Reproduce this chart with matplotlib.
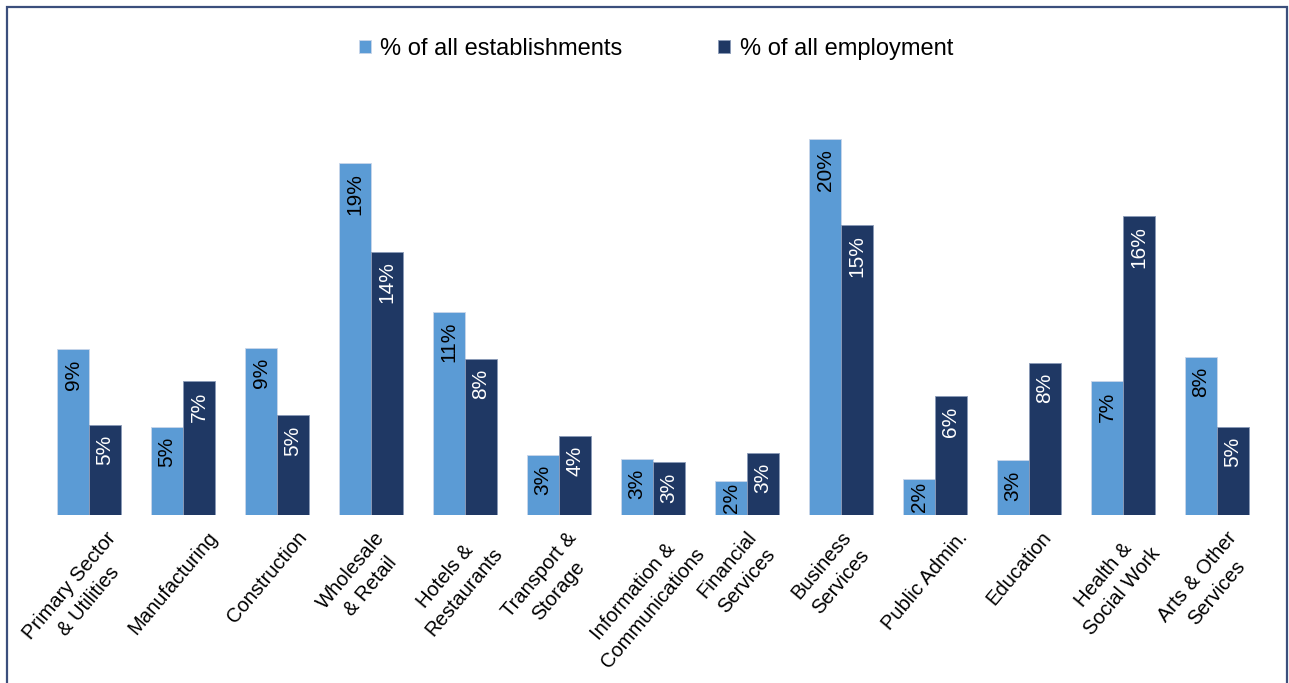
import matplotlib
matplotlib.use("Agg")
import matplotlib.pyplot as plt
import numpy as np
from matplotlib.patches import Rectangle
from matplotlib.transforms import ScaledTranslation

plt.rcParams['font.family'] = ['Liberation Sans', 'DejaVu Sans']

categories = [
    "Primary Sector\n& Utilities", "Manufacturing", "Construction",
    "Wholesale\n& Retail", "Hotels &\nRestaurants", "Transport &\nStorage",
    "Information &\nCommunications", "Financial\nServices", "Business\nServices",
    "Public Admin.", "Education", "Health &\nSocial Work", "Arts & Other\nServices",
]
establishments = [8.8, 4.7, 8.9, 18.7, 10.8, 3.2, 3.0, 1.8, 20.0, 1.9, 2.9, 7.1, 8.4]
employment = [4.8, 7.1, 5.3, 14.0, 8.3, 4.2, 2.8, 3.3, 15.4, 6.3, 8.1, 15.9, 4.7]
series_names = ["% of all establishments", "% of all employment"]

light = "#5B9BD5"
dark = "#1F3864"

W, H, DPI = 1289, 683, 100
fig = plt.figure(figsize=(W / DPI, H / DPI), dpi=DPI)
ax = fig.add_axes([42 / W, 1 - 515 / H, (1264 - 42) / W, (515 - 101) / H])

x = np.arange(len(categories))
bw = 0.34
b1 = ax.bar(x - bw / 2, establishments, bw, color=light, edgecolor="#c9d6ea",
            linewidth=0.6, label=series_names[0])
b2 = ax.bar(x + bw / 2, employment, bw, color=dark, edgecolor="#8a9ab8",
            linewidth=0.6, label=series_names[1])

ax.set_xlim(-0.5, len(categories) - 0.5)
ax.set_ylim(0, 22)

# value labels, rotated and tucked inside the top of each bar;
# short bars get the label centred so it stays inside
label_fs = 15
px_per_unit = (515 - 101) / 22.0
for bars, vals, col in ((b1, establishments, "black"), (b2, employment, "white")):
    for rect, v in zip(bars, vals):
        txt = f"{v:.0f}%"
        text_len = (0.556 * (len(txt) - 1) + 0.889) * label_fs * DPI / 72
        bar_px = v * px_per_unit
        pad_px = min(10.0, max(1.0, (bar_px - text_len) / 2))
        ax.annotate(txt, (rect.get_x() + rect.get_width() / 2, v),
                    xytext=(0, -pad_px * 72 / DPI), textcoords="offset points",
                    rotation=90, ha="center", va="top", fontsize=label_fs, color=col)

ax.set_xticks(x)
ax.set_xticklabels(categories, rotation=50, ha="center", va="top",
                   multialignment="center", fontsize=14.5, linespacing=1.4)
ax.tick_params(axis="x", length=0, pad=9.4)
shift = ScaledTranslation(-10 / DPI, 0, fig.dpi_scale_trans)
for lab in ax.get_xticklabels():
    lab.set_transform(lab.get_transform() + shift)

ax.set_yticks([])
for s in ax.spines.values():
    s.set_visible(False)

leg = fig.legend(loc="center", bbox_to_anchor=(656 / W, 1 - 49 / H), ncol=2,
                 frameon=False, fontsize=17, handlelength=0.5, handleheight=0.5,
                 handletextpad=0.4, columnspacing=4.05)

# outer frame around the chart area
fig.patches.append(Rectangle((7 / W, -0.05), (1287 - 7) / W, 1.05 - 7 / H,
                             transform=fig.transFigure, fill=False,
                             edgecolor="#3b4f7c", linewidth=1.6))

fig.savefig("out.png", dpi=DPI)
